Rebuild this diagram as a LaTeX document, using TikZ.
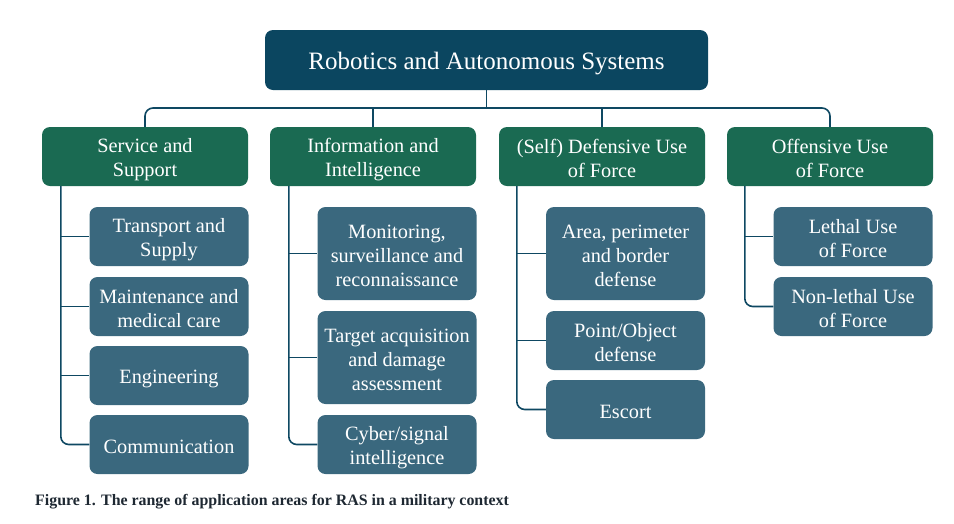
\documentclass[tikz,border=0pt]{standalone}
\usepackage{fontspec}
\setmainfont{Liberation Serif}
\definecolor{rootc}{RGB}{11,70,96}
\definecolor{catc}{RGB}{26,106,82}
\definecolor{childc}{RGB}{58,104,126}
\definecolor{linec}{RGB}{14,72,98}
\definecolor{capc}{RGB}{30,40,50}
\newcommand\tstr{\rule{0pt}{20.5pt}}
\newcommand\bstr{\rule[-3.5pt]{0pt}{3.5pt}}
\newcommand\rtstrut{\rule[-4pt]{0pt}{28pt}}
\begin{document}
\begin{tikzpicture}[x=1pt,y=-1pt,
  box/.style={rounded corners=8pt, text=white, align=center, inner sep=0pt,
    font=\fontsize{20.3}{24}\selectfont},
  rootbox/.style={rounded corners=8pt, text=white, align=center, inner sep=0pt,
    fill=rootc, minimum width=443pt, minimum height=60pt,
    font=\fontsize{25}{28}\selectfont},
  catbox/.style={box, fill=catc, minimum width=206pt, minimum height=59pt},
  childbox/.style={box, fill=childc, minimum width=159pt},
  conn/.style={draw=linec, line width=1.6pt}]
\useasboundingbox (0,0) rectangle (954,523);
\node[rootbox] (root) at (486.5,60) {\rtstrut Robotics and Autonomous Systems};
\node[catbox] (c1) at (145,156.5) {\tstr Service and\\Support\bstr};
\node[catbox] (c2) at (373,156.5) {\tstr Information and\\Intelligence\bstr};
\node[catbox] (c3) at (602,156.5) {\tstr (Self) Defensive Use\\of Force\bstr};
\node[catbox] (c4) at (830,156.5) {\tstr Offensive Use\\of Force\bstr};
% service
\node[childbox, minimum height=59pt] (s1) at (169,236.5) {\tstr Transport and\\Supply\bstr};
\node[childbox, minimum height=59pt] (s2) at (169,306.5) {\tstr Maintenance and\\medical care\bstr};
\node[childbox, minimum height=59pt] (s3) at (169,375.5) {\tstr Engineering\bstr};
\node[childbox, minimum height=59pt] (s4) at (169,444.5) {\tstr Communication\bstr};
% information
\node[childbox, minimum height=93pt] (i1) at (397,253.5) {\tstr Monitoring,\\surveillance and\\reconnaissance\bstr};
\node[childbox, minimum height=93pt] (i2) at (397,357.5) {\tstr Target acquisition\\and damage\\assessment\bstr};
\node[childbox, minimum height=59pt] (i3) at (397,444.5) {\tstr Cyber/signal\\intelligence\bstr};
% defensive
\node[childbox, minimum height=93pt] (d1) at (625.5,253.5) {\tstr Area, perimeter\\and border\\defense\bstr};
\node[childbox, minimum height=59pt] (d2) at (625.5,340.5) {\tstr Point/Object\\defense\bstr};
\node[childbox, minimum height=59pt] (d3) at (625.5,409.5) {\tstr Escort\bstr};
% offensive
\node[childbox, minimum height=59pt] (o1) at (853,236.5) {\tstr Lethal Use\\of Force\bstr};
\node[childbox, minimum height=59pt] (o2) at (853,306.5) {\tstr Non-lethal Use\\of Force\bstr};
% top connectors
\coordinate (bar) at (486.5,108);
\draw[conn] (root.south) -- (bar);
\draw[conn, rounded corners=8pt] (c1.north) |- (bar) -| (c4.north);
\draw[conn] (c2.north) -- (c2.north |- bar);
\draw[conn] (c3.north) -- (c3.north |- bar);
% child connectors
\coordinate (t1) at ([xshift=19pt]c1.south west);
\coordinate (t2) at ([xshift=19pt]c2.south west);
\coordinate (t3) at ([xshift=18pt]c3.south west);
\coordinate (t4) at ([xshift=18pt]c4.south west);
\draw[conn, rounded corners=8pt] (t1) |- (s4.west);
\foreach \n in {s1,s2,s3} \draw[conn] (t1 |- \n.west) -- (\n.west);
\draw[conn, rounded corners=8pt] (t2) |- (i3.west);
\foreach \n in {i1,i2} \draw[conn] (t2 |- \n.west) -- (\n.west);
\draw[conn, rounded corners=8pt] (t3) |- (d3.west);
\foreach \n in {d1,d2} \draw[conn] (t3 |- \n.west) -- (\n.west);
\draw[conn, rounded corners=8pt] (t4) |- (o2.west);
\draw[conn] (t4 |- o1.west) -- (o1.west);
% caption
\node[anchor=base west, inner sep=0pt, text=capc, font=\fontsize{15.9}{18}\selectfont\bfseries] (cap) at (35,505)
  {Figure 1. The range of application areas for RAS in a military context};
\end{tikzpicture}
\end{document}
